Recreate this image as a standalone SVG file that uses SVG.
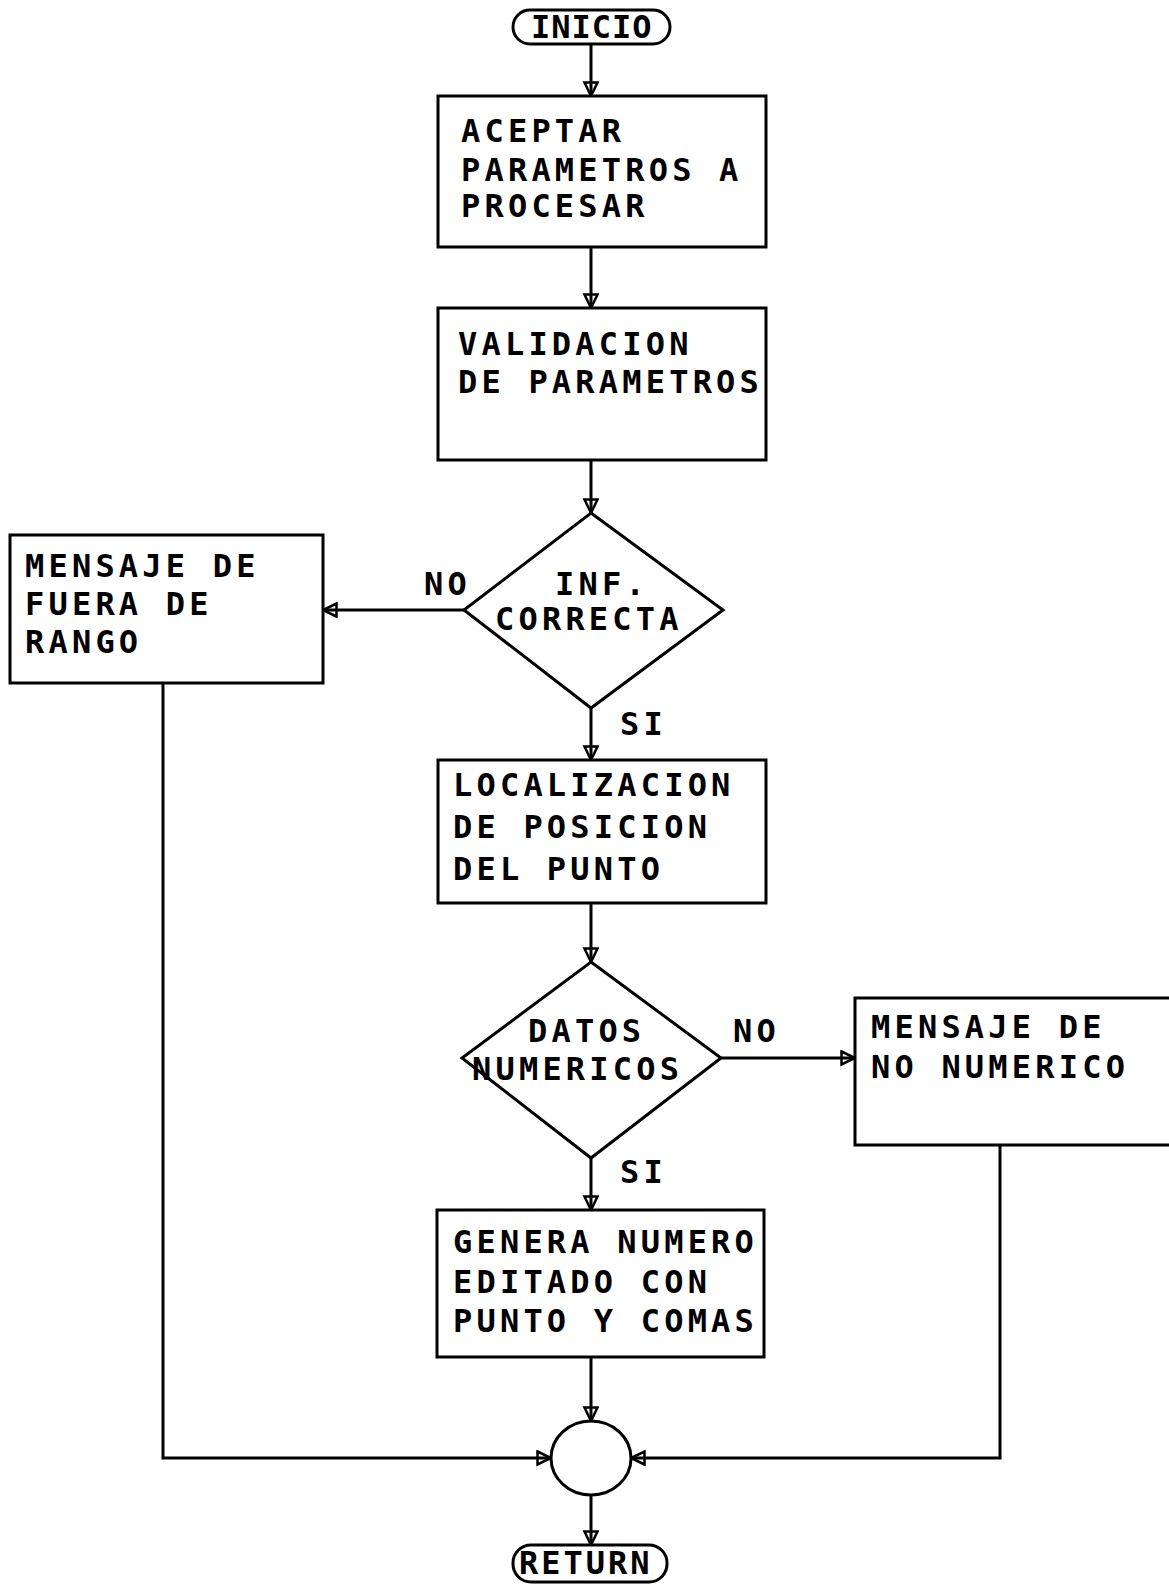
<svg xmlns="http://www.w3.org/2000/svg" width="1169" height="1586" viewBox="0 0 1169 1586">
<style>
.shape{fill:#fff;stroke:#000;stroke-width:3}
.ln{fill:none;stroke:#000;stroke-width:3}
.t{font-family:"DejaVu Sans Mono","Liberation Mono",monospace;font-size:32px;font-weight:bold;letter-spacing:4.2px;fill:#000}
</style>
<defs>
<marker id="arr" markerUnits="userSpaceOnUse" markerWidth="18" markerHeight="18" refX="15" refY="8" orient="auto">
<path d="M1.5,1.5 L15,8 L1.5,14.5 Z" fill="none" stroke="#000" stroke-width="2.5"/>
</marker>
</defs>
<rect width="1169" height="1586" fill="#fff"/>
<g id="connectors">
<path class="ln" d="M591,44 L591,96" marker-end="url(#arr)"/>
<path class="ln" d="M591,247 L591,308" marker-end="url(#arr)"/>
<path class="ln" d="M591,460 L591,513" marker-end="url(#arr)"/>
<path class="ln" d="M464,610 L323,610" marker-end="url(#arr)"/>
<path class="ln" d="M591,708 L591,760" marker-end="url(#arr)"/>
<path class="ln" d="M591,903 L591,962" marker-end="url(#arr)"/>
<path class="ln" d="M721,1058 L855,1058" marker-end="url(#arr)"/>
<path class="ln" d="M591,1158 L591,1210" marker-end="url(#arr)"/>
<path class="ln" d="M591,1357 L591,1421" marker-end="url(#arr)"/>
<path class="ln" d="M163,683 L163,1458 L551,1458" marker-end="url(#arr)"/>
<path class="ln" d="M1000,1145 L1000,1458 L631,1458" marker-end="url(#arr)"/>
<path class="ln" d="M591,1495 L591,1545" marker-end="url(#arr)"/>
<text class="t" x="424" y="595">NO</text>
<text class="t" x="620" y="735">SI</text>
<text class="t" x="733" y="1042">NO</text>
<text class="t" x="620" y="1183">SI</text>
</g>
<g id="inicio">
<rect class="shape" x="513" y="10" width="157" height="34" rx="17"/>
<text class="t" x="531" y="38" style="letter-spacing:1px">INICIO</text>
</g>
<g id="aceptar">
<rect class="shape" x="438" y="96" width="328" height="151"/>
<text class="t" x="461" y="142">ACEPTAR</text>
<text class="t" x="461" y="181">PARAMETROS A</text>
<text class="t" x="461" y="217">PROCESAR</text>
</g>
<g id="validacion">
<rect class="shape" x="438" y="308" width="328" height="152"/>
<text class="t" x="458" y="355">VALIDACION</text>
<text class="t" x="458" y="393">DE PARAMETROS</text>
</g>
<g id="inf-correcta">
<polygon class="shape" points="591,513 723,610 591,708 464,610"/>
<text class="t" x="555" y="595">INF.</text>
<text class="t" x="495" y="630">CORRECTA</text>
</g>
<g id="fuera-rango">
<rect class="shape" x="10" y="535" width="313" height="148"/>
<text class="t" x="25" y="577">MENSAJE DE</text>
<text class="t" x="25" y="615">FUERA DE</text>
<text class="t" x="25" y="653">RANGO</text>
</g>
<g id="localizacion">
<rect class="shape" x="438" y="760" width="328" height="143"/>
<text class="t" x="453" y="796">LOCALIZACION</text>
<text class="t" x="453" y="838">DE POSICION</text>
<text class="t" x="453" y="880">DEL PUNTO</text>
</g>
<g id="datos-numericos">
<polygon class="shape" points="591,962 721,1058 591,1158 462,1058"/>
<text class="t" x="528" y="1042">DATOS</text>
<text class="t" x="472" y="1080">NUMERICOS</text>
</g>
<g id="no-numerico">
<rect class="shape" x="855" y="998" width="330" height="147"/>
<text class="t" x="871" y="1038">MENSAJE DE</text>
<text class="t" x="871" y="1078">NO NUMERICO</text>
</g>
<g id="genera">
<rect class="shape" x="437" y="1210" width="327" height="147"/>
<text class="t" x="453" y="1253">GENERA NUMERO</text>
<text class="t" x="453" y="1293">EDITADO CON</text>
<text class="t" x="453" y="1332">PUNTO Y COMAS</text>
</g>
<g id="conector">
<ellipse class="shape" cx="591" cy="1458" rx="40" ry="37"/>
</g>
<g id="return">
<rect class="shape" x="513" y="1545" width="154" height="37" rx="18"/>
<text class="t" x="519" y="1574" style="letter-spacing:3px">RETURN</text>
</g>
</svg>
